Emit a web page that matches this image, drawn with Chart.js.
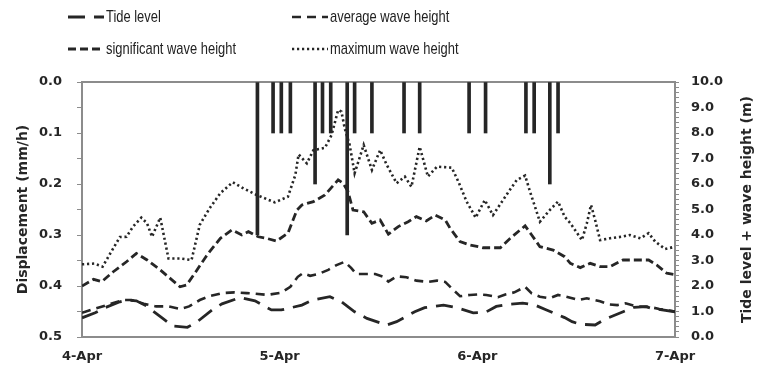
<!DOCTYPE html>
<html>
<head>
<meta charset="utf-8">
<script src="https://cdn.jsdelivr.net/npm/chart.js@4.4.1/dist/chart.umd.min.js"></script>
<style>
  body { margin: 0; background: #fff; }
  #wrap { position: relative; width: 757px; height: 372px; }
  #legend .item { position: absolute; height: 18px; display: flex; align-items: center;
    font-family: "Liberation Sans", sans-serif; font-size: 17px;
    color: #222; white-space: nowrap; }
  #legend svg { margin-right: 2px; }
  #legend span { display: inline-block; transform: scaleX(0.76); transform-origin: left center; }
</style>
</head>
<body>
<div id="wrap">
  <canvas id="chart" width="757" height="372"></canvas>
  <div id="legend"></div>
</div>
<script>
// x values are hours counted from 4-Apr 00:00
var dayLabels = ['4-Apr', '5-Apr', '6-Apr', '7-Apr'];

// displacement (mm/h), left axis
var dispHours = [21.3, 23.2, 24.2, 25.3, 28.3, 29.2, 30.2, 32.2, 33.1, 35.2, 39.1, 41.0, 47.0, 49.0, 53.9, 54.9, 56.8, 57.8];
var dispValues = [0.3, 0.1, 0.1, 0.1, 0.2, 0.1, 0.1, 0.3, 0.1, 0.1, 0.1, 0.1, 0.1, 0.1, 0.1, 0.1, 0.2, 0.1];

// tide level (m), right axis
var tideHours = [0, 1.6, 2.8, 4.6, 5.5, 6.6, 7.8, 9.8, 11.0, 12.8, 14.0, 15.8, 17.0, 19.2, 21.0, 23.0, 24.2, 26.7, 28.0, 30.1,
  31.5, 33.1, 34.6, 37.0, 38.2, 40.4, 41.6, 43.9, 45.3, 47.5, 49.0, 50.3, 51.8, 53.5, 55.0, 56.4, 58.6, 59.5, 60.5, 62.3,
  63.5, 65.7, 67.0, 68.5, 69.2, 72];
var tideLevel = [0.75, 0.95, 1.15, 1.38, 1.45, 1.42, 1.22, 0.73, 0.43, 0.38, 0.6, 1.06, 1.3, 1.55, 1.42, 1.06, 1.06, 1.25, 1.45, 1.58,
  1.38, 0.99, 0.73, 0.47, 0.6, 0.99, 1.15, 1.25, 1.17, 0.95, 0.97, 1.2, 1.28, 1.33, 1.25, 1.06, 0.76, 0.6, 0.5, 0.47,
  0.7, 0.99, 1.16, 1.19, 1.12, 0.99];

// average wave height (m)
var avgHours = [0, 1.5, 3.5, 5.0, 6.0, 7.5, 9.0, 10.5, 11.9, 13.0, 14.3, 15.5, 17.0, 18.5, 20.0, 21.0, 22.5, 24.2, 25.3, 26.2,
  26.8, 27.7, 28.7, 29.9, 30.9, 31.9, 32.7, 33.3, 35.6, 36.6, 37.2, 38.2, 39.4, 40.6, 42.0, 43.1, 44.1, 45.1, 45.9, 47.1,
  48.1, 49.1, 50.5, 51.4, 52.5, 53.8, 54.6, 55.6, 56.8, 57.8, 58.6, 60.3, 61.3, 62.9, 63.9, 65.0, 66.0, 67.3, 68.9, 70.1, 72];
var avgWave = [0.95, 1.1, 1.3, 1.45, 1.45, 1.3, 1.2, 1.2, 1.1, 1.2, 1.45, 1.6, 1.72, 1.75, 1.72, 1.7, 1.65, 1.74, 1.97, 2.36,
  2.5, 2.4, 2.47, 2.63, 2.82, 2.95, 2.7, 2.47, 2.47, 2.36, 2.17, 2.38, 2.34, 2.21, 2.16, 2.21, 2.16, 1.84, 1.6, 1.65,
  1.67, 1.65, 1.56, 1.67, 1.75, 1.97, 1.71, 1.58, 1.52, 1.65, 1.6, 1.45, 1.52, 1.4, 1.28, 1.25, 1.32, 1.2, 1.18, 1.1, 1.0];

// significant wave height (m)
var sigHours = [0, 1.4, 2.4, 3.8, 5.4, 6.6, 7.9, 9.5, 10.7, 11.9, 12.7, 13.7, 14.9, 15.5, 16.8, 18.2, 19.4, 20.2, 21.4, 22.4,
  23.6, 25.0, 26.1, 26.7, 28.1, 29.5, 31.1, 31.7, 32.3, 32.9, 34.2, 35.2, 36.2, 37.2, 38.4, 39.6, 40.6, 41.8, 42.9, 44.1,
  44.7, 45.9, 47.1, 48.7, 50.8, 52.0, 53.8, 54.6, 55.6, 57.2, 58.6, 59.3, 60.5, 61.7, 62.9, 64.1, 65.7, 67.5, 68.8, 69.8,
  71.0, 72];
var sigWave = [2.0, 2.26, 2.17, 2.56, 2.95, 3.28, 3.02, 2.63, 2.3, 1.97, 2.04, 2.5, 3.08, 3.35, 3.87, 4.2, 4.0, 4.13, 3.93, 3.87,
  3.76, 4.07, 4.98, 5.18, 5.31, 5.57, 6.16, 6.03, 5.7, 4.98, 4.91, 4.46, 4.59, 4.03, 4.33, 4.52, 4.72, 4.55, 4.78, 4.59,
  4.26, 3.74, 3.61, 3.5, 3.5, 3.87, 4.36, 4.0, 3.54, 3.41, 3.15, 2.89, 2.72, 2.89, 2.76, 2.76, 3.02, 3.02, 3.02, 2.82,
  2.5, 2.45];

// maximum wave height (m)
var maxHours = [0, 1.5, 2.5, 3.8, 4.6, 5.4, 6.2, 7.2, 7.9, 8.5, 9.5, 10.5, 11.9, 13.3, 14.3, 15.5, 16.8, 18.3, 19.6, 21.2,
  23.4, 25.0, 25.9, 26.3, 27.3, 28.1, 29.5, 30.3, 31.1, 31.5, 31.9, 32.5, 33.1, 34.2, 35.2, 36.2, 37.0, 38.2, 39.2, 40.0,
  41.0, 42.0, 43.1, 44.9, 45.7, 46.7, 47.8, 48.9, 49.9, 51.8, 52.8, 53.8, 54.4, 55.6, 56.8, 57.8, 58.6, 59.3, 60.7, 61.3,
  61.8, 62.3, 62.9, 64.1, 65.5, 66.5, 67.8, 68.8, 69.6, 70.8, 72];
var maxWave = [2.85, 2.88, 2.76, 3.48, 3.92, 3.93, 4.33, 4.68, 4.46, 3.93, 4.68, 3.08, 3.08, 3.02, 4.4, 5.05, 5.64, 6.07, 5.83, 5.57,
  5.28, 5.5, 6.35, 7.16, 6.81, 7.33, 7.42, 7.92, 8.9, 8.84, 8.18, 7.53, 6.42, 7.53, 6.55, 7.33, 6.75, 6.03, 6.29, 5.89,
  7.46, 6.29, 6.68, 6.64, 6.09, 5.31, 4.68, 5.37, 4.78, 5.7, 6.16, 6.33, 5.7, 4.52, 4.98, 5.31, 4.72, 4.46, 3.8, 4.46,
  5.18, 4.59, 3.8, 3.87, 3.93, 4.0, 3.87, 4.07, 3.74, 3.45, 3.54];

var leftTitle = 'Displacement (mm/h)';
var rightTitle = 'Tide level + wave height (m)';

var ink = '#262626';
var axisGrey = '#8c8c8c';
var tickFont = { family: '"DejaVu Sans", sans-serif', weight: 'bold', size: 13 };
var titleFont = { family: '"DejaVu Sans", sans-serif', weight: 'bold', size: 14 };

function pts(hours, vals) {
  return hours.map(function(h, i) { return { x: h, y: vals[i] }; });
}

function lineSet(label, hours, vals, dash, width) {
  return {
    type: 'line', label: label, data: pts(hours, vals), yAxisID: 'y1',
    borderColor: ink, borderWidth: width, borderDash: dash, borderCapStyle: 'butt',
    pointRadius: 0, fill: false, tension: 0, order: 1
  };
}

// top edge of the plot box, and the right title read bottom-to-top like the left one
var framePlugin = {
  id: 'frame',
  beforeDatasetsDraw: function(chart) {
    var a = chart.chartArea, ctx = chart.ctx;
    ctx.save();
    ctx.strokeStyle = axisGrey;
    ctx.lineWidth = 2;
    ctx.beginPath();
    ctx.moveTo(a.left, a.top);
    ctx.lineTo(a.right, a.top);
    ctx.stroke();
    ctx.restore();
  },
  afterDraw: function(chart) {
    var a = chart.chartArea, ctx = chart.ctx;
    ctx.save();
    ctx.translate(747, (a.top + a.bottom) / 2);
    ctx.rotate(-Math.PI / 2);
    ctx.font = 'bold 14px "DejaVu Sans", sans-serif';
    ctx.fillStyle = ink;
    ctx.textAlign = 'center';
    ctx.textBaseline = 'middle';
    ctx.fillText(rightTitle, 0, 0);
    ctx.restore();
  }
};

var lines = [
  lineSet('Tide level', tideHours, tideLevel, [17, 9], 2.8),
  lineSet('average wave height', avgHours, avgWave, [9, 6], 2.6),
  lineSet('significant wave height', sigHours, sigWave, [8, 4], 2.8),
  lineSet('maximum wave height', maxHours, maxWave, [2.2, 2.8], 2.6)
];

var chart = new Chart(document.getElementById('chart'), {
  type: 'line',
  data: {
    datasets: [{
      type: 'bar', label: 'Displacement', data: pts(dispHours, dispValues), yAxisID: 'y',
      backgroundColor: ink, barThickness: 3, order: 0
    }].concat(lines)
  },
  options: {
    responsive: false,
    animation: false,
    devicePixelRatio: 1,
    layout: { padding: { top: 82, left: 0, right: 0, bottom: 0 } },
    plugins: { legend: { display: false }, tooltip: { enabled: false } },
    scales: {
      x: {
        type: 'linear', min: 0, max: 72, offset: false,
        grid: { display: false, drawTicks: false, offset: false },
        border: { color: axisGrey, width: 2 },
        ticks: {
          stepSize: 24, autoSkip: false, maxRotation: 0, padding: 12, color: ink, font: tickFont,
          callback: function(v) { return dayLabels[Math.round(v / 24)]; }
        },
        afterFit: function(s) { s.height = 35; }
      },
      y: {
        position: 'left', reverse: true, min: 0, max: 0.5,
        grid: { drawOnChartArea: false, tickLength: 5, color: axisGrey, lineWidth: 1 },
        border: { color: axisGrey, width: 2 },
        ticks: {
          stepSize: 0.05, autoSkip: false, padding: 15, color: ink, font: tickFont,
          callback: function(v) {
            var t = Math.round(v * 100);
            return t % 10 === 0 ? (t / 100).toFixed(1) : '';
          }
        },
        title: { display: true, text: leftTitle, color: ink, font: titleFont, padding: { top: 15, bottom: 0 } },
        afterFit: function(s) { s.width = 82; }
      },
      y1: {
        position: 'right', min: 0, max: 10,
        grid: { drawOnChartArea: false, tickLength: 4, color: axisGrey, lineWidth: 1 },
        border: { color: axisGrey, width: 2 },
        ticks: {
          stepSize: 0.2, autoSkip: false, padding: 12, color: ink, font: tickFont,
          callback: function(v) {
            var t = Math.round(v * 10);
            return t % 10 === 0 ? (t / 10).toFixed(1) : '';
          }
        },
        afterFit: function(s) { s.width = 82; }
      }
    }
  },
  plugins: [framePlugin]
});

// legend in two columns, two rows
var legendPos = [[68, 8], [292, 8], [68, 40], [292, 40]];
var legendBox = document.getElementById('legend');
lines.forEach(function(ds, i) {
  var item = document.createElement('div');
  item.className = 'item';
  item.style.left = legendPos[i][0] + 'px';
  item.style.top = legendPos[i][1] + 'px';
  item.innerHTML = '<svg width="36" height="6"><line x1="0" y1="3" x2="36" y2="3" stroke="' + ink +
    '" stroke-width="' + ds.borderWidth + '" stroke-dasharray="' + ds.borderDash.join(',') + '"/></svg>';
  var span = document.createElement('span');
  span.textContent = ds.label;
  item.appendChild(span);
  legendBox.appendChild(item);
});
</script>
</body>
</html>
